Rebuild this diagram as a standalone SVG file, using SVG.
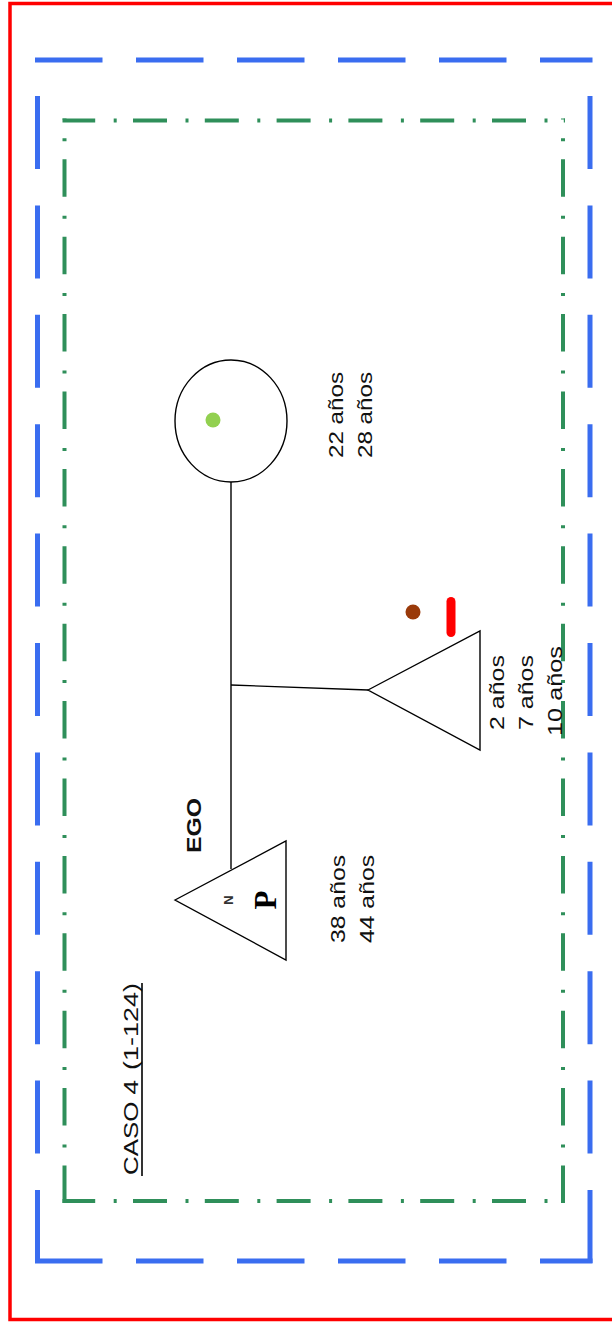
<svg xmlns="http://www.w3.org/2000/svg" width="612" height="1323" viewBox="0 0 612 1323">
<style>
  .bg { fill: #ffffff; }
  .red { fill: none; stroke: #ff0000; stroke-width: 3.5; }
  .blueH { fill: none; stroke: #3a6df0; stroke-width: 5; stroke-dasharray: 67.5 33.5; }
  .blueV { fill: none; stroke: #3a6df0; stroke-width: 5; stroke-dasharray: 73 36.4; }
  .greenH { fill: none; stroke: #2f8f5a; stroke-width: 4; stroke-dasharray: 34 18.5 3 16.3; stroke-dashoffset: 1.3; }
  .greenV { fill: none; stroke: #2f8f5a; stroke-width: 4; stroke-dasharray: 37.5 18 3 18.9; }
  .shape { fill: #ffffff; stroke: #000000; stroke-width: 1.4; }
  .conn { fill: none; stroke: #000000; stroke-width: 1.4; }
  .lbl { font-family: "Liberation Sans", Arial, sans-serif; font-size: 21px; fill: #111111; }
  .bold { font-weight: bold; }
</style>
<rect class="bg" x="0" y="0" width="612" height="1323"/>

<g id="frames">
  <rect class="red" x="10" y="3.5" width="700" height="1316"/>
  <line class="blueH" x1="35" y1="60" x2="592.5" y2="60"/>
  <line class="blueH" x1="35" y1="1261" x2="592.5" y2="1261"/>
  <line class="blueV" x1="37.5" y1="1263" x2="37.5" y2="60"/>
  <line class="blueV" x1="590" y1="1263" x2="590" y2="60"/>
  <line class="greenH" x1="62.5" y1="120.5" x2="565" y2="120.5"/>
  <line class="greenH" x1="62.5" y1="1201" x2="565" y2="1201"/>
  <line class="greenV" x1="64.5" y1="1203" x2="64.5" y2="118.5"/>
  <line class="greenV" x1="563" y1="1203" x2="563" y2="118.5"/>
</g>

<g id="connectors">
  <line class="conn" x1="231" y1="482" x2="231" y2="869"/>
  <line class="conn" x1="231" y1="685" x2="368" y2="690"/>
</g>

<g id="partner">
  <ellipse class="shape" cx="231" cy="421" rx="56" ry="61"/>
  <circle cx="213" cy="420" r="7.5" fill="#92d050"/>
  <text class="lbl" transform="translate(343,458) rotate(-90)" textLength="86" lengthAdjust="spacingAndGlyphs">22 años</text>
  <text class="lbl" transform="translate(372,458) rotate(-90)" textLength="86" lengthAdjust="spacingAndGlyphs">28 años</text>
</g>

<g id="ego">
  <polygon class="shape" points="175,900 286,841 286,960"/>
  <text class="lbl bold" transform="translate(201,853) rotate(-90)" textLength="55" lengthAdjust="spacingAndGlyphs">EGO</text>
  <text transform="translate(233,900) rotate(-90)" text-anchor="middle" font-family="Liberation Sans, Arial, sans-serif" font-size="13" font-weight="bold" fill="#333333">N</text>
  <text transform="translate(276,900) rotate(-90)" text-anchor="middle" font-family="Liberation Serif, Times New Roman, serif" font-size="31" font-weight="bold" fill="#000000">P</text>
  <text class="lbl" transform="translate(345,943) rotate(-90)" textLength="88" lengthAdjust="spacingAndGlyphs">38 años</text>
  <text class="lbl" transform="translate(374,943) rotate(-90)" textLength="88" lengthAdjust="spacingAndGlyphs">44 años</text>
</g>

<g id="child">
  <polygon class="shape" points="368,690 480,631 480,750"/>
  <circle cx="413" cy="612" r="7.5" fill="#9a3a0a"/>
  <rect x="446.5" y="597" width="9" height="40" rx="4.5" fill="#ff0000"/>
  <text class="lbl" transform="translate(504,730) rotate(-90)" textLength="75" lengthAdjust="spacingAndGlyphs">2 años</text>
  <text class="lbl" transform="translate(533,730) rotate(-90)" textLength="75" lengthAdjust="spacingAndGlyphs">7 años</text>
  <text class="lbl" transform="translate(562,736) rotate(-90)" textLength="90" lengthAdjust="spacingAndGlyphs">10 años</text>
</g>

<g id="title">
  <text class="lbl" transform="translate(138,1175) rotate(-90)" textLength="95" lengthAdjust="spacingAndGlyphs">CASO 4</text>
  <text class="lbl" transform="translate(138,1070) rotate(-90)" textLength="87" lengthAdjust="spacingAndGlyphs">(1-124)</text>
  <line x1="142" y1="983" x2="142" y2="1176" stroke="#000000" stroke-width="1.6"/>
</g>
</svg>
